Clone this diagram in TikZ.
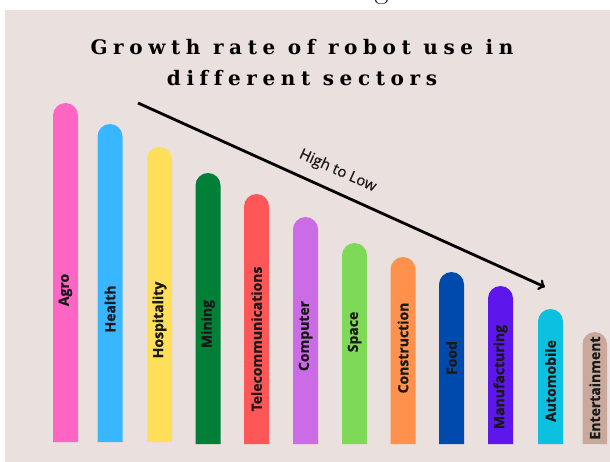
\documentclass[tikz,border=0pt]{standalone}
\usepackage{fontspec}
\usepackage{tikz}
\newfontfamily\sectorfont{Open Sans}[BoldFeatures={FakeBold=0.8}]
\newfontfamily\trendfont{Open Sans}[FakeBold=0.5]
\newfontfamily\titlefont{DejaVu Serif}[LetterSpace=28, Ligatures=NoCommon]
\definecolor{panel}{HTML}{EAE0DD}
\definecolor{agro}{HTML}{FF66C4}
\definecolor{health}{HTML}{38B6FF}
\definecolor{hospitality}{HTML}{FFDE59}
\definecolor{mining}{HTML}{008037}
\definecolor{telecom}{HTML}{FF5757}
\definecolor{computer}{HTML}{CB6CE6}
\definecolor{space}{HTML}{7ED957}
\definecolor{construction}{HTML}{FF914D}
\definecolor{food}{HTML}{004AAD}
\definecolor{manufacturing}{HTML}{5E17EB}
\definecolor{automobile}{HTML}{0CC0DF}
\definecolor{entertainment}{HTML}{C9A99B}
\tikzstyle{sector} = [rotate=90, inner sep=0pt, text=black!90, font={\sectorfont\bfseries\fontsize{14}{14}\selectfont}]
\tikzstyle{heading} = [align=center, font={\titlefont\bfseries\fontsize{20}{31}\selectfont}]
\tikzstyle{trend} = [->, line width=2.8pt]

\begin{document}
\begin{tikzpicture}[x=1pt,y=-1pt]
    \useasboundingbox[fill=white] (0,0) rectangle (610,462);
    \fill[panel] (4.7,10) rectangle (610,462);
    \node[anchor=base, font=\fontsize{30}{30}\selectfont] (cropped) at (381.5,-1.5) {g};
    \node[heading, anchor=base] (title) at (302,86) {Growth rate of robot use in\\different sectors};
    % bars, from high to low
    \fill[agro] (53,442) -- (53,115.5) arc[start angle=180, end angle=360, radius=12.5] -- (78,442) -- cycle;
    \fill[health] (97.5,442) -- (97.5,136.5) arc[start angle=180, end angle=360, radius=12.5] -- (122.5,442) -- cycle;
    \fill[hospitality] (147,442) -- (147,159.5) arc[start angle=180, end angle=360, radius=12.5] -- (172,442) -- cycle;
    \fill[mining] (195.5,444) -- (195.5,185.5) arc[start angle=180, end angle=360, radius=12.5] -- (220.5,444) -- cycle;
    \fill[telecom] (244,444) -- (244,206.5) arc[start angle=180, end angle=360, radius=12.5] -- (269,444) -- cycle;
    \fill[computer] (293,444) -- (293,229.5) arc[start angle=180, end angle=360, radius=12.5] -- (318,444) -- cycle;
    \fill[space] (342,444) -- (342,255.5) arc[start angle=180, end angle=360, radius=12.5] -- (367,444) -- cycle;
    \fill[construction] (390.5,444) -- (390.5,269.5) arc[start angle=180, end angle=360, radius=12.5] -- (415.5,444) -- cycle;
    \fill[food] (439,444) -- (439,284.5) arc[start angle=180, end angle=360, radius=12.5] -- (464,444) -- cycle;
    \fill[manufacturing] (488,444) -- (488,298.5) arc[start angle=180, end angle=360, radius=12.5] -- (513,444) -- cycle;
    \fill[automobile] (538,444) -- (538,321.5) arc[start angle=180, end angle=360, radius=12.5] -- (563,444) -- cycle;
    \fill[entertainment] (582.5,444) -- (582.5,344.25) arc[start angle=180, end angle=360, radius=12.25] -- (607,444) -- cycle;
    % labels
    \node[sector] (agrol) at (65.5,290) {Agro};
    \node[sector] (healthl) at (110,309) {Health};
    \node[sector] (hospitalityl) at (159.5,320) {Hospitality};
    \node[sector] (miningl) at (208,324) {Mining};
    \node[sector] (telecoml) at (256.5,339) {Telecommunications};
    \node[sector] (computerl) at (305.5,336) {Computer};
    \node[sector] (spacel) at (354.5,332) {Space};
    \node[sector] (constructionl) at (403,348) {Construction};
    \node[sector] (foodl) at (451.5,358) {Food};
    \node[sector] (manufacturingl) at (500.5,377) {Manufacturing};
    \node[sector] (automobilel) at (550.5,381) {Automobile};
    \node[sector] (entertainmentl) at (594.75,388) {Entertainment};
    % trend arrow
    \coordinate (high) at (138,103);
    \coordinate (low) at (545,287);
    \draw[trend] (high) -- node[pos=0.47, sloped, above=8pt, text=black!90, font={\trendfont\fontsize{15}{15}\selectfont}] (trendl) {High to Low} (low);
\end{tikzpicture}
\end{document}
